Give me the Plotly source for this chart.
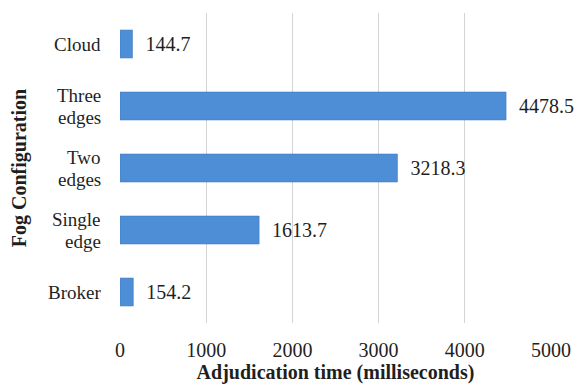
import plotly.graph_objects as go

categories = ["Broker", "Single edge", "Two edges", "Three edges", "Cloud"]
label_lines = [["Broker"], ["Single", "edge"], ["Two", "edges"], ["Three", "edges"], ["Cloud"]]
values = [154.2, 1613.7, 3218.3, 4478.5, 144.7]
value_labels = ["154.2", "1613.7", "3218.3", "4478.5", "144.7"]
x_ticks = [0, 1000, 2000, 3000, 4000, 5000]

font_family = "Liberation Serif, Times New Roman, serif"
text_color = "#1f1f1f"

fig = go.Figure()
fig.add_trace(go.Bar(
    y=categories, x=values, orientation="h",
    marker=dict(color="#4e8ed6", line=dict(color="#3f7bbf", width=0.6)),
    text=["\u00a0\u00a0" + t for t in value_labels],
    textposition="outside", cliponaxis=False,
    textfont=dict(family=font_family, size=20, color=text_color),
))

# category labels (two-line labels with tight line spacing)
line_gap = 22
for cat, lines in zip(categories, label_lines):
    n = len(lines)
    for i, ln in enumerate(lines):
        shift = ((n - 1) / 2 - i) * line_gap
        fig.add_annotation(
            x=0, xref="paper", xanchor="right", xshift=-17,
            y=cat, yref="y", yanchor="middle", yshift=shift,
            text=ln, showarrow=False,
            font=dict(family=font_family, size=19, color=text_color),
        )

fig.update_layout(
    width=583, height=392,
    margin=dict(l=120, r=28, t=13, b=69),
    paper_bgcolor="white", plot_bgcolor="white",
    bargap=0.55,
    showlegend=False,
    font=dict(family=font_family, size=20, color=text_color),
    xaxis=dict(
        range=[0, 5000], tickvals=x_ticks,
        showgrid=True, gridcolor="#d4d4d4", gridwidth=1,
        zeroline=False, showline=False, ticks="",
        ticklabelstandoff=13,
        tickfont=dict(family=font_family, size=20, color=text_color),
        title=dict(text="<b>Adjudication time (milliseconds)</b>",
                   font=dict(family=font_family, size=20, color=text_color),
                   standoff=4),
    ),
    yaxis=dict(
        showgrid=False, zeroline=False, showline=False, ticks="",
        showticklabels=False,
        title=dict(text="<b>Fog Configuration</b>",
                   font=dict(family=font_family, size=20, color=text_color),
                   standoff=87),
    ),
)

fig.write_html("out.html")
